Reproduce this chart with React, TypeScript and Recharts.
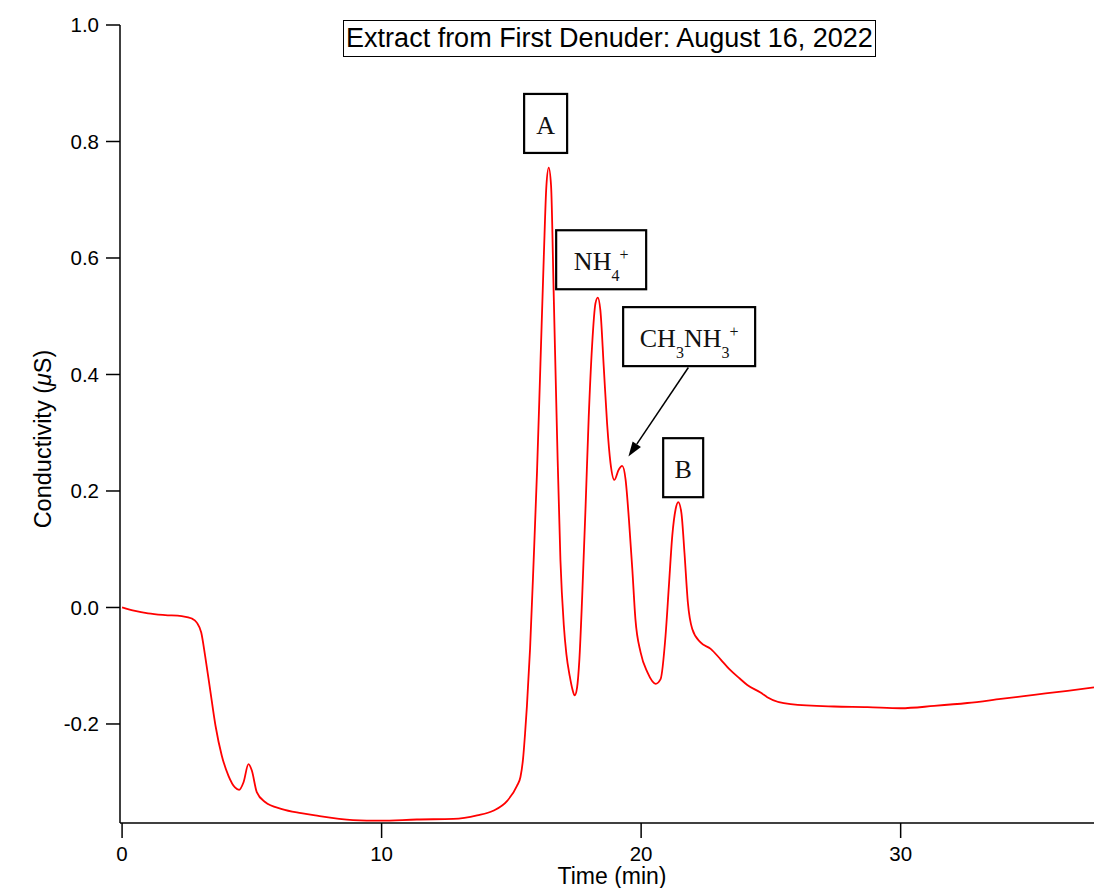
import { LineChart, Line, XAxis, YAxis, ReferenceDot, ReferenceLine } from 'recharts'

/* ── Data ── */

const TIME = [
  0, 0.5, 1.0, 1.66, 2.3, 2.69, 2.88, 3.05, 3.2, 3.39, 3.6, 3.84, 4.1, 4.35, 4.51, 4.68, 4.87, 5.0,
  5.19, 5.51, 6.16, 6.9, 7.44, 8.9, 9.95, 11.36, 12.77, 13.68, 14.3, 14.84, 15.22, 15.35, 15.45,
  15.53, 15.6, 15.72, 15.86, 15.99, 16.12, 16.25, 16.35, 16.44, 16.53, 16.63, 16.76, 16.89, 17.02,
  17.12, 17.25, 17.35, 17.44, 17.53, 17.62, 17.73, 17.86, 17.98, 18.11, 18.24, 18.33, 18.43, 18.56,
  18.69, 18.82, 18.97, 19.14, 19.27, 19.4, 19.53, 19.66, 19.78, 19.98, 20.24, 20.56, 20.75, 20.94,
  21.07, 21.2, 21.33, 21.43, 21.55, 21.67, 21.8, 21.97, 22.29, 22.68, 23.06, 23.4, 23.8, 24.09,
  24.6, 24.86, 25.76, 27.43, 28.72, 30.0, 31.29, 32.57, 33.86, 35.14, 36.43, 37.45,
]

const CONDUCTIVITY = [
  0.0, -0.006, -0.01, -0.013, -0.015, -0.019, -0.026, -0.043, -0.083, -0.14, -0.203, -0.254, -0.289,
  -0.309, -0.313, -0.3, -0.269, -0.28, -0.317, -0.334, -0.346, -0.353, -0.357, -0.365, -0.366, -0.364,
  -0.363, -0.357, -0.349, -0.332, -0.306, -0.291, -0.26, -0.215, -0.169, -0.071, 0.082, 0.235, 0.418,
  0.602, 0.724, 0.755, 0.724, 0.541, 0.296, 0.082, -0.03, -0.08, -0.118, -0.14, -0.151, -0.138,
  -0.09, 0.02, 0.174, 0.326, 0.449, 0.522, 0.532, 0.51, 0.413, 0.315, 0.248, 0.219, 0.237, 0.243,
  0.22, 0.151, 0.066, -0.02, -0.077, -0.111, -0.131, -0.123, -0.049, 0.037, 0.123, 0.169, 0.181,
  0.163, 0.094, 0.009, -0.037, -0.06, -0.071, -0.089, -0.106, -0.122, -0.133, -0.146, -0.154, -0.166,
  -0.17, -0.171, -0.173, -0.169, -0.164, -0.157, -0.15, -0.143, -0.137,
]

const X_TICKS = [0, 10, 20, 30]
const Y_TICKS = [-0.2, 0.0, 0.2, 0.4, 0.6, 0.8, 1.0]

const data = TIME.map((t, i) => ({ t, v: CONDUCTIVITY[i] }))

const SANS = '"Liberation Sans", Arial, Helvetica, sans-serif'
const SERIF = '"Liberation Serif", "Times New Roman", serif'

/* ── Peak label boxes ── */

type Part = { text: string; sub?: boolean; sup?: boolean }

function labelBox(w: number, parts: Part[]) {
  return (props: any) => {
    const { cx, cy } = props
    const h = 59
    let shift = 0
    return (
      <g>
        <rect x={cx - w / 2} y={cy - h / 2} width={w} height={h} fill="#fff" stroke="#000" strokeWidth={2.2} />
        <text x={cx} y={cy + 10.5} textAnchor="middle" fontFamily={SERIF} fontSize={26} fill="#111">
          {parts.map((p, i) => {
            const target = p.sub ? 11 : p.sup ? -10 : 0
            const dy = target - shift
            shift = target
            return (
              <tspan key={i} dy={dy} fontSize={p.sub || p.sup ? 16 : 26}>
                {p.text}
              </tspan>
            )
          })}
        </text>
      </g>
    )
  }
}

const arrowShape = (props: any) => {
  const { x1, y1, x2, y2 } = props
  const ang = Math.atan2(y2 - y1, x2 - x1)
  const len = 15
  const half = 5
  const bx = x2 - len * Math.cos(ang)
  const by = y2 - len * Math.sin(ang)
  const px = -Math.sin(ang) * half
  const py = Math.cos(ang) * half
  return (
    <g>
      <line x1={x1} y1={y1} x2={bx} y2={by} stroke="#000" strokeWidth={1.5} />
      <polygon points={`${x2},${y2} ${bx + px},${by + py} ${bx - px},${by - py}`} fill="#000" />
    </g>
  )
}

/* ── Axis titles ── */

const yLabel = (props: any) => {
  const vb = props.viewBox || { x: 0, y: 25, width: 120, height: 798 }
  const x = vb.x + 42.5
  const y = vb.y + vb.height / 2 + 15
  return (
    <text
      x={x}
      y={y}
      transform={`rotate(-90 ${x} ${y})`}
      textAnchor="middle"
      dominantBaseline="central"
      fontFamily={SANS}
      fontSize={23.5}
      fill="#000"
    >
      Conductivity (<tspan fontStyle="italic">μ</tspan>S)
    </text>
  )
}

const xLabel = (props: any) => {
  const vb = props.viewBox || { x: 120, y: 823, width: 974, height: 65 }
  return (
    <text x={vb.x + vb.width / 2 + 5} y={vb.y + 61} textAnchor="middle" fontFamily={SANS} fontSize={23} fill="#000">
      Time (min)
    </text>
  )
}

export default function App() {
  return (
    <div style={{ position: 'absolute', left: 0, top: 0, width: 1094, height: 888, background: '#fff' }}>
      <LineChart width={1094} height={888} data={data} margin={{ top: 25, right: 0, bottom: 0, left: 0 }}>
        <XAxis
          type="number"
          dataKey="t"
          domain={[-0.08, 37.45]}
          ticks={X_TICKS}
          allowDataOverflow
          height={65}
          tickSize={15}
          tickMargin={8}
          tick={{ fill: '#000', fontSize: 20.5, fontFamily: SANS }}
          axisLine={{ stroke: '#000', strokeWidth: 1.5 }}
          tickLine={{ stroke: '#000', strokeWidth: 1.5 }}
          label={xLabel}
        />
        <YAxis
          type="number"
          domain={[-0.37, 1.0]}
          ticks={Y_TICKS}
          allowDataOverflow
          width={120}
          tickSize={14}
          tickMargin={7}
          tickFormatter={(v: number) => v.toFixed(1)}
          tick={{ fill: '#000', fontSize: 20.5, fontFamily: SANS }}
          axisLine={{ stroke: '#000', strokeWidth: 1.5 }}
          tickLine={{ stroke: '#000', strokeWidth: 1.5 }}
          label={yLabel}
        />
        <Line
          type="monotone"
          dataKey="v"
          stroke="#ff0000"
          strokeWidth={1.8}
          dot={false}
          isAnimationActive={false}
        />
        <ReferenceLine
          segment={[{ x: 21.82, y: 0.412 }, { x: 19.51, y: 0.259 }]}
          ifOverflow="visible"
          shape={arrowShape}
        />
        <ReferenceDot x={16.32} y={0.831} r={0} ifOverflow="visible" shape={labelBox(43, [{ text: 'A' }])} />
        <ReferenceDot
          x={18.46}
          y={0.597}
          r={0}
          ifOverflow="visible"
          shape={labelBox(90, [{ text: 'NH' }, { text: '4', sub: true }, { text: '+', sup: true }])}
        />
        <ReferenceDot
          x={21.85}
          y={0.465}
          r={0}
          ifOverflow="visible"
          shape={labelBox(132, [
            { text: 'CH' },
            { text: '3', sub: true },
            { text: 'NH' },
            { text: '3', sub: true },
            { text: '+', sup: true },
          ])}
        />
        <ReferenceDot x={21.62} y={0.24} r={0} ifOverflow="visible" shape={labelBox(40, [{ text: 'B' }])} />
      </LineChart>
      <div
        style={{
          position: 'absolute',
          left: 343,
          top: 20,
          width: 531,
          height: 35,
          border: '1.5px solid #000',
          fontFamily: SANS,
          fontSize: 27,
          lineHeight: '35px',
          textAlign: 'center',
          color: '#000',
          whiteSpace: 'nowrap',
          background: '#fff',
        }}
      >
        Extract from First Denuder: August 16, 2022
      </div>
    </div>
  )
}
